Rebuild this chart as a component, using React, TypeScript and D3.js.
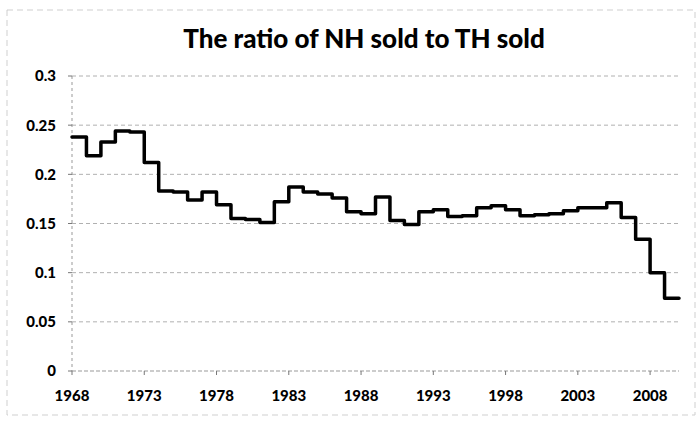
import React from 'react';
import * as d3 from 'd3';

const years = [
  1968, 1969, 1970, 1971, 1972, 1973, 1974, 1975, 1976, 1977,
  1978, 1979, 1980, 1981, 1982, 1983, 1984, 1985, 1986, 1987,
  1988, 1989, 1990, 1991, 1992, 1993, 1994, 1995, 1996, 1997,
  1998, 1999, 2000, 2001, 2002, 2003, 2004, 2005, 2006, 2007,
  2008, 2009,
];

const ratio = [
  0.238, 0.219, 0.233, 0.244, 0.243, 0.212, 0.183, 0.182, 0.174, 0.182,
  0.169, 0.155, 0.154, 0.151, 0.172, 0.187, 0.182, 0.18, 0.176, 0.162,
  0.16, 0.177, 0.153, 0.149, 0.162, 0.164, 0.157, 0.158, 0.166, 0.168,
  0.164, 0.158, 0.159, 0.16, 0.163, 0.166, 0.166, 0.171, 0.156, 0.134,
  0.1, 0.074,
];

const xTickYears = [1968, 1973, 1978, 1983, 1988, 1993, 1998, 2003, 2008];
const yTicks = [0, 0.05, 0.1, 0.15, 0.2, 0.25, 0.3];
const yTickLabels = ['0', '0.05', '0.1', '0.15', '0.2', '0.25', '0.3'];

const W = 700;
const H = 421;
const font = 'Lato, "Open Sans", sans-serif';

export default function App() {
  const x = d3.scaleLinear().domain([1968, 2010]).range([72, 679]);
  const y = d3.scaleLinear().domain([0, 0.3]).range([371, 76]);

  // each year is held flat until the next one starts
  const pts: [number, number][] = years.map((yr, i) => [yr, ratio[i]]);
  pts.push([years[years.length - 1] + 1, ratio[ratio.length - 1]]);

  const line = d3
    .line<[number, number]>()
    .x(d => x(d[0]))
    .y(d => y(d[1]))
    .curve(d3.curveStepAfter);

  return (
    <svg
      width={W}
      height={H}
      style={{ position: 'absolute', left: 0, top: 0, background: '#fff' }}
    >
      <rect x={7} y={10} width={688} height={405} fill="none" stroke="#cfcfcf" strokeDasharray="6,4" />

      <text
        x={364}
        y={48}
        textAnchor="middle"
        fontFamily={font}
        fontWeight={900}
        fontSize={26}
        fill="#000"
      >
        The ratio of NH sold to TH sold
      </text>

      {/* gridlines */}
      {yTicks.slice(1).map(t => (
        <line
          key={t}
          x1={x.range()[0]}
          x2={x.range()[1]}
          y1={y(t)}
          y2={y(t)}
          stroke="#b0b0b0"
          strokeDasharray="4,3"
        />
      ))}

      {/* y axis */}
      <line x1={x(1968)} x2={x(1968)} y1={y(0.3)} y2={y(0)} stroke="#999" strokeDasharray="3,3" />
      {yTicks.map((t, i) => (
        <g key={t}>
          <line x1={x(1968) - 4} x2={x(1968)} y1={y(t)} y2={y(t)} stroke="#777" />
          <text
            x={56}
            y={y(t)}
            dy="0.36em"
            textAnchor="end"
            fontFamily={font}
            fontWeight={900}
            fontSize={15}
          >
            {yTickLabels[i]}
          </text>
        </g>
      ))}

      {/* x axis */}
      <line x1={x.range()[0]} x2={x.range()[1]} y1={y(0)} y2={y(0)} stroke="#999" strokeDasharray="4,2" />
      {xTickYears.map(yr => (
        <g key={yr}>
          <line x1={x(yr)} x2={x(yr)} y1={y(0)} y2={y(0) + 4} stroke="#777" />
          <text
            x={x(yr)}
            y={396}
            dy="0.36em"
            textAnchor="middle"
            fontFamily={font}
            fontWeight={900}
            fontSize={15}
          >
            {yr}
          </text>
        </g>
      ))}

      <path
        d={line(pts) ?? ''}
        fill="none"
        stroke="#000"
        strokeWidth={3.5}
        strokeLinejoin="round"
        strokeLinecap="round"
      />
    </svg>
  );
}
